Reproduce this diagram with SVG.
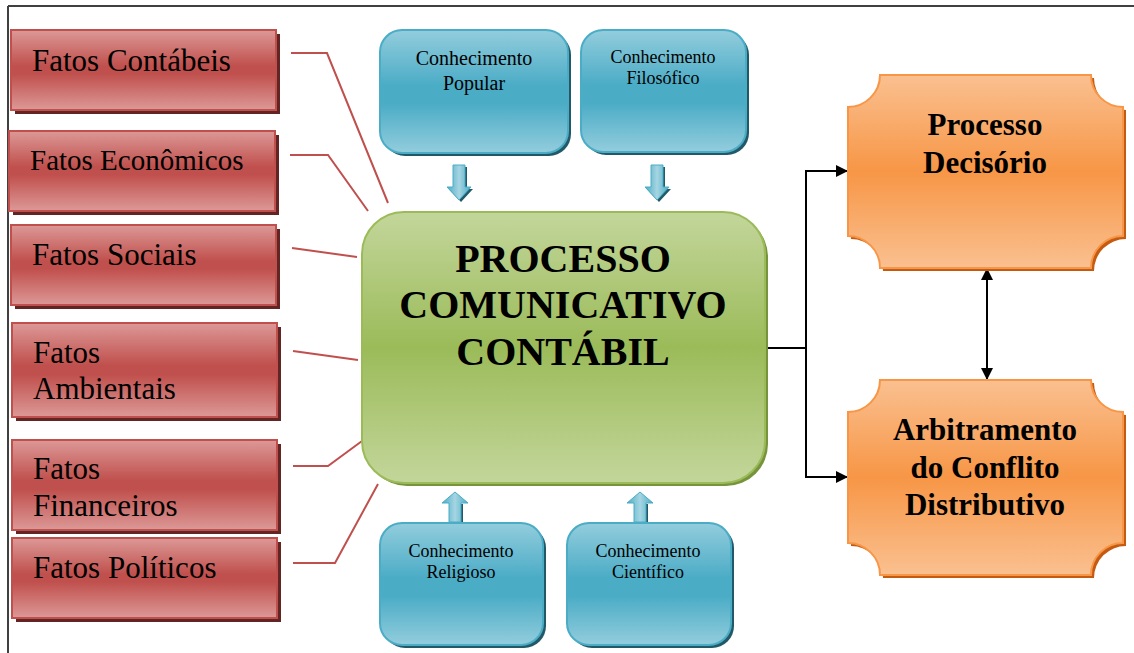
<svg xmlns="http://www.w3.org/2000/svg" width="1134" height="653" viewBox="0 0 1134 653">
<defs>
<linearGradient id="gRed" x1="0" y1="0" x2="0" y2="1">
<stop offset="0" stop-color="#dc9997"/><stop offset="0.45" stop-color="#c0504d"/><stop offset="0.55" stop-color="#c0504d"/><stop offset="1" stop-color="#dc9997"/>
</linearGradient>
<linearGradient id="gBlue" x1="0" y1="0" x2="0" y2="1">
<stop offset="0" stop-color="#93cddd"/><stop offset="0.45" stop-color="#4bacc6"/><stop offset="0.6" stop-color="#4bacc6"/><stop offset="1" stop-color="#93cddd"/>
</linearGradient>
<linearGradient id="gGreen" x1="0" y1="0" x2="0" y2="1">
<stop offset="0" stop-color="#c3d69b"/><stop offset="0.5" stop-color="#9bbb59"/><stop offset="1" stop-color="#c3d69b"/>
</linearGradient>
<linearGradient id="gOrange" x1="0" y1="0" x2="0" y2="1">
<stop offset="0" stop-color="#fac090"/><stop offset="0.5" stop-color="#f79646"/><stop offset="1" stop-color="#fac090"/>
</linearGradient>
<linearGradient id="gArrow" x1="0" y1="0" x2="1" y2="0">
<stop offset="0" stop-color="#4bacc6"/><stop offset="0.5" stop-color="#a5d5e2"/><stop offset="1" stop-color="#4bacc6"/>
</linearGradient>
<marker id="ah" viewBox="0 0 10 10" refX="10" refY="5" markerWidth="15" markerHeight="12" markerUnits="userSpaceOnUse" orient="auto-start-reverse">
<path d="M0,0 L10,5 L0,10 Z" fill="#000"/>
</marker>
<style>
.red{fill:url(#gRed);stroke:#c0504d;stroke-width:2}
.redS{fill:#632523}
.blue{fill:url(#gBlue);stroke:#4bacc6;stroke-width:2}
.blueS{fill:#215968}
.org{fill:url(#gOrange);stroke:#f79646;stroke-width:2}
.orgS{fill:#c55a11}
.t{font-family:"Liberation Serif","Times New Roman",serif;fill:#000}
.tr{font-size:31px}
.tb{font-size:19px}
.tc{text-anchor:middle}
.bold{font-weight:bold}
.rl{fill:none;stroke:#c0504d;stroke-width:2}
.bl{fill:none;stroke:#000;stroke-width:2}
.arr{fill:url(#gArrow);stroke:#4bacc6;stroke-width:1}
</style>
</defs>
<rect x="0" y="0" width="1134" height="653" fill="#fff"/>
<path d="M8,6 H1134 M8,6 V653" fill="none" stroke="#404040" stroke-width="2"/>

<g id="connectors">
<polyline class="rl" points="291,53 327,53 388,203"/>
<polyline class="rl" points="290,155 328,155 368,211"/>
<polyline class="rl" points="292,248 357,257"/>
<polyline class="rl" points="293,351 358,360"/>
<polyline class="rl" points="293,466 328,466 362,441"/>
<polyline class="rl" points="293,563 335,563 378,484"/>
<polyline class="bl" points="765,348 806,348"/>
<polyline class="bl" points="848,171 806,171 806,477 848,477" marker-start="url(#ah)" marker-end="url(#ah)"/>
<line class="bl" x1="987" y1="268" x2="987" y2="380" marker-start="url(#ah)" marker-end="url(#ah)"/>
<g id="blockArrows">
<path fill="#215968" d="M455,167 H467 V189 H473 L461,202 L449,189 H455 Z"/>
<path class="arr" d="M453,165 H465 V187 H471 L459,200 L447,187 H453 Z"/>
<path fill="#215968" d="M653,167 H665 V189 H671 L659,202 L647,189 H653 Z"/>
<path class="arr" d="M651,165 H663 V187 H669 L657,200 L645,187 H651 Z"/>
<path fill="#215968" d="M451,504 H463 V524 H451 Z"/>
<path class="arr" d="M449,522 H461 V503 H468 L455,492 L442,503 H449 Z"/>
<path fill="#215968" d="M636,504 H648 V524 H636 Z"/>
<path class="arr" d="M634,522 H646 V503 H653 L640,492 L627,503 H634 Z"/>
</g>
</g>

<g id="fatos-contabeis">
<rect class="redS" x="15" y="34" width="265" height="80"/>
<rect class="red" x="11" y="30" width="265" height="80"/>
<text class="t tr" x="32" y="71">Fatos Contábeis</text>
</g>
<g id="fatos-economicos">
<rect class="redS" x="13" y="135" width="266" height="80"/>
<rect class="red" x="9" y="131" width="266" height="80"/>
<text class="t" font-size="29" x="30" y="170">Fatos Econômicos</text>
</g>
<g id="fatos-sociais">
<rect class="redS" x="15" y="229" width="265" height="80"/>
<rect class="red" x="11" y="225" width="265" height="80"/>
<text class="t tr" x="32" y="265">Fatos Sociais</text>
</g>
<g id="fatos-ambientais">
<rect class="redS" x="16" y="327" width="265" height="94"/>
<rect class="red" x="12" y="323" width="265" height="94"/>
<text class="t tr" x="33" y="363">Fatos</text>
<text class="t tr" x="33" y="399">Ambientais</text>
</g>
<g id="fatos-financeiros">
<rect class="redS" x="16" y="444" width="265" height="90"/>
<rect class="red" x="12" y="440" width="265" height="90"/>
<text class="t tr" x="33" y="479">Fatos</text>
<text class="t tr" x="33" y="516">Financeiros</text>
</g>
<g id="fatos-politicos">
<rect class="redS" x="16" y="542" width="265" height="80"/>
<rect class="red" x="12" y="538" width="265" height="80"/>
<text class="t tr" x="33" y="578">Fatos Políticos</text>
</g>

<g id="conhecimento-popular">
<rect class="blueS" x="383" y="33" width="188" height="123" rx="22"/>
<rect class="blue" x="380" y="30" width="188" height="123" rx="22"/>
<text class="t tc" font-size="20" x="474" y="65">Conhecimento</text>
<text class="t tc" font-size="20" x="474" y="90">Popular</text>
</g>
<g id="conhecimento-filosofico">
<rect class="blueS" x="584" y="33" width="165" height="122" rx="22"/>
<rect class="blue" x="581" y="30" width="165" height="122" rx="22"/>
<text class="t tc" font-size="18" x="663" y="63">Conhecimento</text>
<text class="t tc" font-size="18" x="663" y="84">Filosófico</text>
</g>
<g id="conhecimento-religioso">
<rect class="blueS" x="383" y="526" width="163" height="122" rx="22"/>
<rect class="blue" x="380" y="523" width="163" height="122" rx="22"/>
<text class="t tc" font-size="18" x="461" y="557">Conhecimento</text>
<text class="t tc" font-size="18" x="461" y="578">Religioso</text>
</g>
<g id="conhecimento-cientifico">
<rect class="blueS" x="570" y="526" width="164" height="122" rx="22"/>
<rect class="blue" x="567" y="523" width="164" height="122" rx="22"/>
<text class="t tc" font-size="18" x="648" y="557">Conhecimento</text>
<text class="t tc" font-size="18" x="648" y="578">Científico</text>
</g>

<g id="processo-comunicativo">
<rect x="365" y="215" width="403" height="271" rx="42" fill="#77933c"/>
<rect x="362" y="212" width="403" height="271" rx="42" fill="url(#gGreen)" stroke="#9bbb59" stroke-width="2"/>
<text class="t tc bold" font-size="40" x="563" y="272">PROCESSO</text>
<text class="t tc bold" font-size="40" x="563" y="318">COMUNICATIVO</text>
<text class="t tc bold" font-size="40" x="563" y="365">CONTÁBIL</text>
</g>

<g id="processo-decisorio">
<path class="orgS" d="M883,78 H1094 A32,32 0 0 0 1126,110 V239 A32,32 0 0 0 1094,271 H883 A32,32 0 0 0 851,239 V110 A32,32 0 0 0 883,78 Z"/>
<path class="org" d="M880,75 H1091 A32,32 0 0 0 1123,107 V236 A32,32 0 0 0 1091,268 H880 A32,32 0 0 0 848,236 V107 A32,32 0 0 0 880,75 Z"/>
<text class="t tc bold" font-size="31" x="985" y="135">Processo</text>
<text class="t tc bold" font-size="31" x="985" y="173">Decisório</text>
</g>
<g id="arbitramento">
<path class="orgS" d="M883,383 H1094 A32,32 0 0 0 1126,415 V546 A32,32 0 0 0 1094,578 H883 A32,32 0 0 0 851,546 V415 A32,32 0 0 0 883,383 Z"/>
<path class="org" d="M880,380 H1091 A32,32 0 0 0 1123,412 V543 A32,32 0 0 0 1091,575 H880 A32,32 0 0 0 848,543 V412 A32,32 0 0 0 880,380 Z"/>
<text class="t tc bold" font-size="31" x="985" y="440">Arbitramento</text>
<text class="t tc bold" font-size="31" x="985" y="478">do Conflito</text>
<text class="t tc bold" font-size="31" x="985" y="515">Distributivo</text>
</g>
</svg>
